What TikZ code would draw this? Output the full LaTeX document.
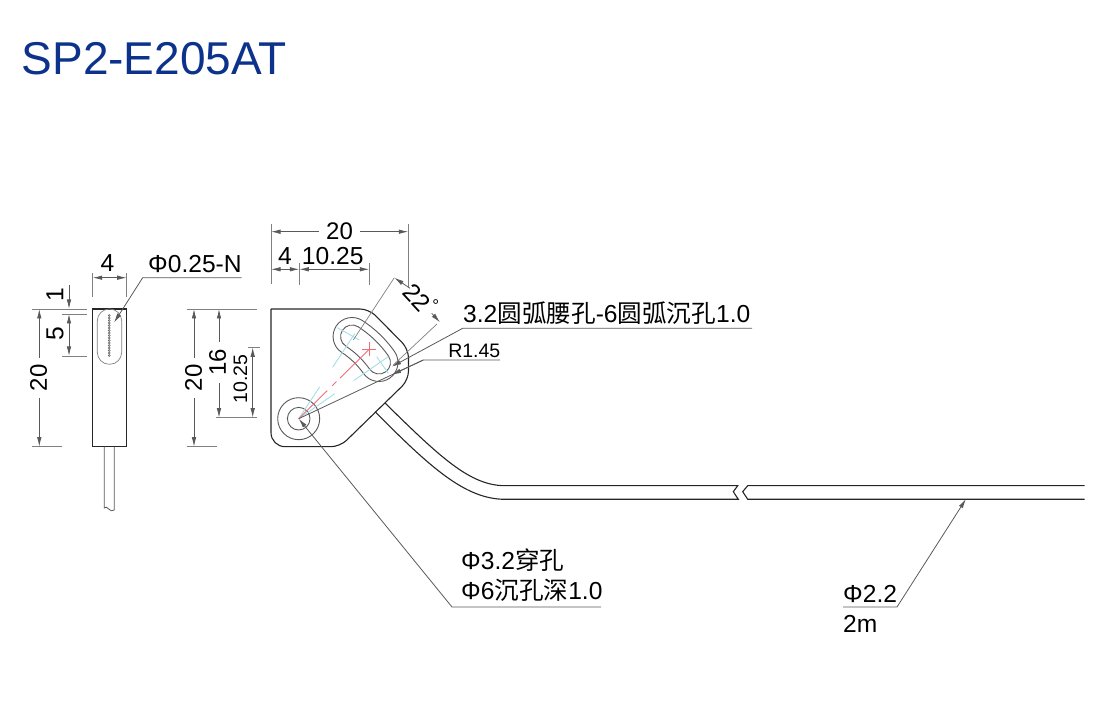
\documentclass[tikz,border=0pt]{standalone}
\usepackage{fontspec}
\setmainfont{Liberation Sans}
\newfontfamily\cjk{Noto Sans CJK SC}
\usetikzlibrary{arrows.meta,calc,positioning}
\definecolor{titleblue}{RGB}{12,50,140}
\definecolor{axisblue}{RGB}{165,222,232}
\definecolor{axisred}{RGB}{240,110,120}
\tikzset{
    outline/.style = {draw=black!85,line width=1.1pt},
    thin gray/.style = {draw=black!65,line width=.8pt},
    dimline/.style = {thin gray,{Latex[length=9.5pt,width=4.5pt]}-{Latex[length=9.5pt,width=4.5pt]}},
    extline/.style = {draw=black!50,line width=.7pt},
    leader/.style = {thin gray,-{Latex[length=9.5pt,width=4.5pt]}},
    hole/.style = {draw=black!65,line width=.9pt},
    axis/.style = {draw=axisblue,line width=.9pt},
    redaxis/.style = {draw=axisred,line width=.9pt},
    label/.style = {inner sep=0pt,font=\fontsize{24.6}{24.6}\selectfont},
    dimtext/.style = {fill=white,inner ysep=0pt,inner xsep=7pt,font=\fontsize{24}{24}\selectfont}
}
\begin{document}
\begin{tikzpicture}[x=1pt,y=1pt]
    \useasboundingbox (0,0) rectangle (1100,722);
    \node[anchor=base west,inner sep=0pt,text=titleblue,font=\fontsize{46}{46}\selectfont] (title) at (21.5,647) {SP2-E205AT};

    % side view
    \draw[outline] (92.7,275.3) rectangle (126.7,413);
    \draw[extline,rounded corners=12pt] (97.3,357.7) rectangle (121.7,413);
    \foreach \y in {366.5,369,...,407}
        \draw[black!60,line width=.5pt] (109.3,\y) circle (1pt);
    \draw[thin gray] (104.3,275.3) -- (104.3,214) .. controls (107,218) and (110,208) .. (114.3,212) -- (114.3,275.3);

    \foreach \x in {92.7,126.7} \draw[extline] (\x,449) -- (\x,425);
    \draw[extline] (32.3,413) -- (86.7,413);
    \draw[extline] (61.7,408) -- (86.7,408);
    \draw[extline] (61.7,366) -- (86.7,366);
    \draw[extline] (32,275.3) -- (62.3,275.3);
    \draw[dimline] (92.7,444.3) -- (126.7,444.3);
    \draw[leader] (69,437) -- (69,413);
    \draw[dimline] (69,408) -- (69,366);
    \draw[dimline] (39.3,413) -- (39.3,275.3);
    \node[label] (sidewidth) at (107.5,459) {4};
    \node[label,rotate=90] (sideone) at (55,427) {1};
    \node[label,rotate=90] (sidefive) at (55,388) {5};
    \node[dimtext,rotate=90] (sidelen) at (38.6,344) {20};

    \coordinate (lensA) at (241.7,444.3);
    \coordinate (lensB) at (142.7,444.3);
    \coordinate (lensC) at (114,399.3);
    \draw[leader] (lensA) -- (lensB) -- (lensC);
    \node[label,anchor=base west] (lenstext) at (148,449.5) {Φ0.25-N};

    % front view
    \coordinate (H) at (298.7,303.3);
    \draw[outline] (271,413) [rounded corners=9pt] -- (369,413) -- (408.5,373) -- (408.5,342) -- (340,275.3) [rounded corners=14pt] -- (271,275.3) -- (271,413);
    \draw[hole] (H) circle (21pt);
    \draw[hole] (H) circle (11.3pt);
    \foreach \w in {19,11.5}
        \draw[hole] ([shift={(H)}]57:98+\w) arc[start angle=57,end angle=35,radius=98+\w]
            arc[start angle=35,end angle=-145,radius=\w]
            arc[start angle=35,end angle=57,radius=98-\w]
            arc[start angle=237,end angle=57,radius=\w] -- cycle;

    \draw[axis] (H) -- ([shift={(H)}]56.6:38);
    \draw[axis] ([shift={(H)}]56.6:61.6) -- ([shift={(H)}]56.6:102);
    \draw[axis] (H) -- ([shift={(H)}]34.7:44);
    \draw[axis] ([shift={(H)}]34.7:67) -- ([shift={(H)}]34.7:109);
    \draw[axis] (337.3,394.3) -- (359.3,382);
    \draw[axis] (376.7,365.3) -- (388.3,348.7);
    \draw[redaxis] (H) -- ([shift={(H)}]44.5:40);
    \draw[redaxis] ([shift={(H)}]44.5:47) -- ([shift={(H)}]44.5:53);
    \draw[redaxis] ([shift={(H)}]44.5:58) -- ([shift={(H)}]44.5:99.5);
    \draw[redaxis] (362.3,372.7) -- (376.3,372.7);
    \draw[redaxis] (369.3,365.7) -- (369.3,379.7);

    \draw[outline] (385,319) .. controls (440,265) and (470,236.3) .. (505,236.3) -- (737.7,236.3)
        -- (733.3,230.3) -- (738.3,222.7) -- (505,222.7) .. controls (465,222.7) and (430,255) .. (375,310.3);
    \draw[outline] (1084.5,236.3) -- (747.7,236.3) -- (742.7,230.3) -- (747.7,222.7) -- (1084.5,222.7);

    % dimensions of the front view
    \draw[extline] (271,498) -- (271,438);
    \draw[extline] (408.3,498) -- (408.3,435);
    \foreach \x in {299.3,369.3} \draw[extline] (\x,459) -- (\x,437);
    \draw[dimline] (271,490.3) -- (408.3,490.3);
    \draw[dimline] (271,452.7) -- (299.3,452.7);
    \draw[dimline] (299.3,452.7) -- (369.3,452.7);
    \node[dimtext] (topwidth) at (339.5,491) {20};
    \node[label] (topfour) at (285,466) {4};
    \node[label] (topdepth) at (332.7,466) {10.25};

    \draw[extline] (186.7,413) -- (256.7,413);
    \draw[extline] (186.7,275.3) -- (216.7,275.3);
    \draw[extline] (216,304.3) -- (256.7,304.3);
    \draw[extline] (248,374.7) -- (260,374.7);
    \draw[dimline] (194,413) -- (194,275.3);
    \draw[dimline] (219,413) -- (219,304.3);
    \draw[dimline] (252.7,374.7) -- (252.7,304.3);
    \node[dimtext,rotate=90] (height) at (193.6,344) {20};
    \node[dimtext,rotate=90] (holey) at (217.5,359.5) {16};
    \node[inner sep=0pt,rotate=90,font=\fontsize{19.5}{19.5}\selectfont] (slotx) at (240.5,343) {10.25};

    % angle of the slot
    \coordinate (angA) at (394.3,444.3);
    \coordinate (angB) at (440,399.7);
    \draw[extline] (angA) -- (353.3,382);
    \draw[extline] (437,398) -- (393.3,357);
    \draw[leader] (410,433.7) -- (angA);
    \draw[leader] (431.7,408.7) -- (angB);
    \node[label,rotate=-47] (angle) at (416.7,424) {22};
    \node[inner sep=0pt,font=\fontsize{17}{17}\selectfont] (degree) at (435.7,416.5) {°};

    % leaders
    \coordinate (slotA) at (752,393.7);
    \coordinate (slotB) at (462.7,393.7);
    \coordinate (slotC) at (391.7,355.3);
    \draw[leader] (slotA) -- (slotB) -- (slotC);
    \node[label,anchor=base west] (slottext) at (463,399.5) {3.2{\cjk 圆弧腰孔}-6{\cjk 圆弧沉孔}1.0};

    \coordinate (radA) at (500,362);
    \coordinate (radB) at (423.3,362);
    \coordinate (radC) at (391.7,347.1);
    \draw[thin gray] (radA) -- (radB) -- (H);
    \draw[leader] (radB) -- (radC);
    \node[anchor=base east,inner sep=0pt,font=\fontsize{19.5}{19.5}\selectfont] (radtext) at (500.5,364) {R1.45};

    \coordinate (holeA) at (601,115);
    \coordinate (holeB) at (452,115);
    \draw[leader] (holeA) -- (holeB) -- (H);
    \node[label,anchor=base west] (holetop) at (461,152.5) {Φ3.2{\cjk 穿孔}};
    \node[label,anchor=base west] (holebot) at (461,122.5) {Φ6{\cjk 沉孔深}1.0};

    \coordinate (cableA) at (843,115);
    \coordinate (cableB) at (897,115);
    \coordinate (cableC) at (966,223);
    \draw[leader] (cableA) -- (cableB) -- (cableC);
    \node[label,anchor=base west] (cabletop) at (843,119) {Φ2.2};
    \node[label,anchor=base west] (cablebot) at (843,89.7) {2m};
\end{tikzpicture}
\end{document}
